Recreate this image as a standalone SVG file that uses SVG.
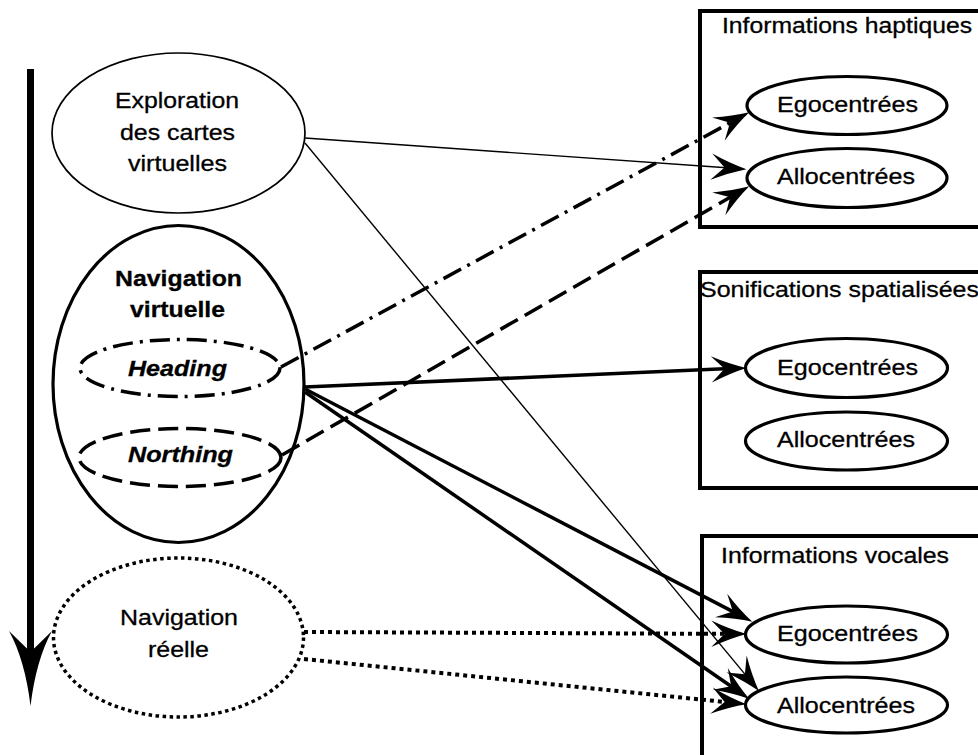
<svg xmlns="http://www.w3.org/2000/svg" width="978" height="755" viewBox="0 0 978 755">
<defs>
<style>
text{font-family:"Liberation Sans",Arial,sans-serif;font-size:22px;fill:#000;stroke:#000;stroke-width:0.3}
.b{font-weight:bold}
.bi{font-weight:bold;font-style:italic}
.node{fill:#fff;stroke:#000;stroke-width:3.2}
.thin{fill:#fff;stroke:#000;stroke-width:1.7}
.box{fill:none;stroke:#000;stroke-width:4}
.c{fill:none;stroke:#000}
.t1{stroke-width:1.4}
.t3{stroke-width:3.5}
.dd{stroke-dasharray:20 7 3 7}
.da{stroke-dasharray:20 8}
.do{stroke-dasharray:4 4;stroke-width:4}
</style>
<marker id="ah" markerUnits="userSpaceOnUse" markerWidth="44" markerHeight="32" viewBox="-20 -14 40 28" refX="0" refY="0" orient="auto">
<path d="M15,0 Q0,-4 -17,-12 L-5,0 L-17,12 Q0,4 15,0 Z" fill="#000" stroke="none"/>
</marker>
</defs>
<rect width="978" height="755" fill="#fff"/>

<g id="timeline">
<rect x="27" y="69" width="7" height="586" fill="#000"/>
<path d="M9,631 Q25,660 30.5,706 Q36,660 52,631 L30.5,652 Z" fill="#000"/>
</g>

<g id="box-haptiques">
<path class="box" d="M985,11 H700 V227 H985"/>
<text x="722" y="33" textLength="250" lengthAdjust="spacingAndGlyphs">Informations haptiques</text>
</g>
<g id="box-sonifications">
<path class="box" d="M985,272 H700 V488 H985"/>
<text x="700" y="297" textLength="279" lengthAdjust="spacingAndGlyphs">Sonifications spatialisées</text>
</g>
<g id="box-vocales">
<path class="box" d="M985,536 H702 V760"/>
<text x="721" y="563" textLength="228" lengthAdjust="spacingAndGlyphs">Informations vocales</text>
</g>

<g id="exploration">
<ellipse class="thin" cx="178.5" cy="133" rx="126.5" ry="80"/>
<text x="115" y="108" textLength="124" lengthAdjust="spacingAndGlyphs">Exploration</text>
<text x="120" y="140" textLength="115" lengthAdjust="spacingAndGlyphs">des cartes</text>
<text x="128" y="170.5" textLength="99" lengthAdjust="spacingAndGlyphs">virtuelles</text>
</g>

<g id="navigation-virtuelle">
<ellipse class="node" cx="178.5" cy="384" rx="125.5" ry="158.5"/>
<text class="b" x="115" y="286" textLength="127" lengthAdjust="spacingAndGlyphs">Navigation</text>
<text class="b" x="130" y="317" textLength="95" lengthAdjust="spacingAndGlyphs">virtuelle</text>
</g>
<g id="heading">
<ellipse class="c t3 dd" cx="180" cy="368" rx="100" ry="28.5"/>
<text class="bi" x="128" y="376" textLength="99" lengthAdjust="spacingAndGlyphs">Heading</text>
</g>
<g id="northing">
<ellipse class="c t3 da" cx="180" cy="457.5" rx="101" ry="29"/>
<text class="bi" x="128" y="462" textLength="105" lengthAdjust="spacingAndGlyphs">Northing</text>
</g>

<g id="navigation-reelle">
<ellipse class="c" cx="178.5" cy="637.5" rx="125" ry="79.5" stroke-width="3.5" stroke-dasharray="3.5 3.5"/>
<text x="120" y="625" textLength="118" lengthAdjust="spacingAndGlyphs">Navigation</text>
<text x="148" y="656.5" textLength="61" lengthAdjust="spacingAndGlyphs">réelle</text>
</g>

<g id="haptic-ego">
<ellipse class="node" cx="847" cy="105.5" rx="100" ry="29"/>
<text x="777" y="112" textLength="141" lengthAdjust="spacingAndGlyphs">Egocentrées</text>
</g>
<g id="haptic-allo">
<ellipse class="node" cx="847" cy="178" rx="100" ry="29.5"/>
<text x="777" y="184" textLength="138" lengthAdjust="spacingAndGlyphs">Allocentrées</text>
</g>
<g id="sonif-ego">
<ellipse class="node" cx="846.5" cy="368" rx="101" ry="29.5"/>
<text x="777" y="375" textLength="141" lengthAdjust="spacingAndGlyphs">Egocentrées</text>
</g>
<g id="sonif-allo">
<ellipse class="node" cx="846.5" cy="441" rx="101" ry="29"/>
<text x="777" y="447" textLength="138" lengthAdjust="spacingAndGlyphs">Allocentrées</text>
</g>
<g id="vocal-ego">
<ellipse class="node" cx="846.5" cy="634.5" rx="101" ry="28.5"/>
<text x="777" y="641" textLength="141" lengthAdjust="spacingAndGlyphs">Egocentrées</text>
</g>
<g id="vocal-allo">
<ellipse class="node" cx="846.5" cy="705" rx="101" ry="28"/>
<text x="777" y="713" textLength="138" lengthAdjust="spacingAndGlyphs">Allocentrées</text>
</g>

<g id="connectors">
<line class="c t1" x1="305" y1="138" x2="730" y2="168" marker-end="url(#ah)"/>
<line class="c t1" x1="305" y1="143" x2="748.4" y2="678.4" marker-end="url(#ah)"/>
<line class="c t3 dd" x1="281" y1="367" x2="734.8" y2="120.2" marker-end="url(#ah)"/>
<line class="c t3 da" x1="282" y1="455" x2="735" y2="194.5" marker-end="url(#ah)"/>
<line class="c t3" x1="305" y1="387" x2="730" y2="368.6" marker-end="url(#ah)"/>
<line class="c t3" x1="305" y1="389" x2="737.7" y2="614.1" marker-end="url(#ah)"/>
<line class="c t3" x1="305" y1="392" x2="735.7" y2="689.5" marker-end="url(#ah)"/>
<line class="c do" x1="304" y1="632" x2="730" y2="633.9" marker-end="url(#ah)"/>
<line class="c do" x1="304" y1="659" x2="730.1" y2="702.5" marker-end="url(#ah)"/>
</g>
</svg>
